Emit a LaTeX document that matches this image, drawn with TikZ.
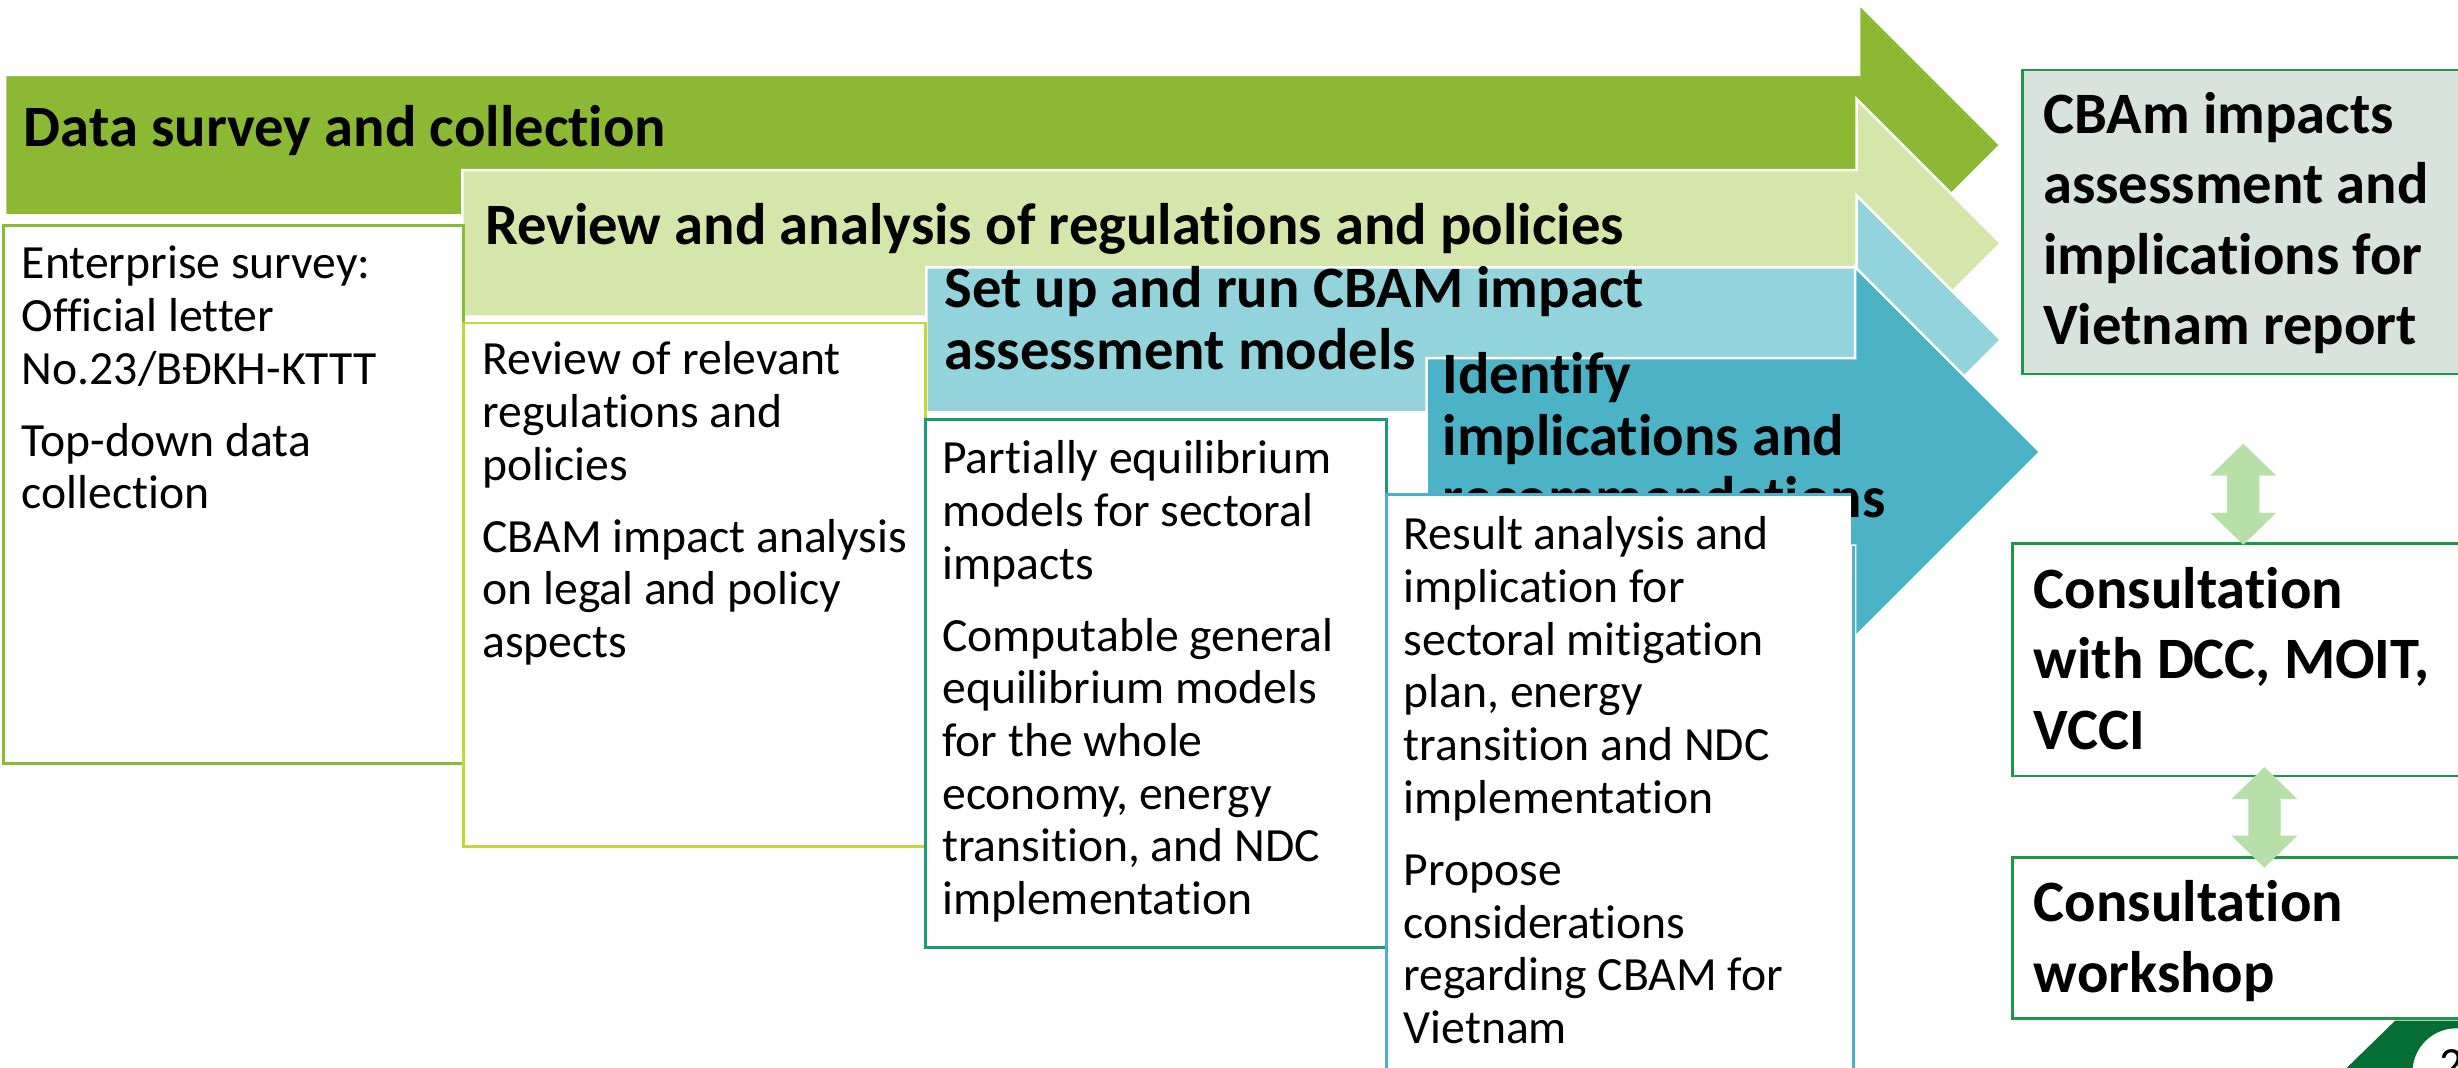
\documentclass[tikz,border=0pt]{standalone}
\usepackage{fontspec}
\setmainfont{Carlito}[Ligatures=NoCommon]
\definecolor{stepA}{RGB}{140,185,52}
\definecolor{stepB}{RGB}{212,230,170}
\definecolor{stepC}{RGB}{147,211,220}
\definecolor{stepD}{RGB}{75,179,197}
\definecolor{lineA}{RGB}{141,185,56}
\definecolor{lineB}{RGB}{196,214,60}
\definecolor{lineC}{RGB}{26,156,122}
\definecolor{lineD}{RGB}{80,175,200}
\definecolor{sideline}{RGB}{30,152,72}
\definecolor{sidefill}{RGB}{216,227,221}
\definecolor{linkfill}{RGB}{182,224,168}
\definecolor{pagegreen}{RGB}{5,110,50}
\newcommand{\vdblarrow}[3]{% centre x, upper tip y, lower tip y
  \fill[linkfill] (#1,#2) -- (#1+21,#2+20.4) -- (#1+10.3,#2+20.4) -- (#1+10.3,#3-20.4)
    -- (#1+21,#3-20.4) -- (#1,#3) -- (#1-21,#3-20.4) -- (#1-10.3,#3-20.4)
    -- (#1-10.3,#2+20.4) -- (#1-21,#2+20.4) -- cycle;}
\begin{document}
\begin{tikzpicture}[x=0.5pt,y=-0.5pt,
  stagearrow/.style={draw=white,line width=0.8pt,line join=miter},
  textbox/.style={fill=white,line width=0.9pt},
  sidebox/.style={draw=sideline,line width=0.9pt},
  bodytext/.style={inner sep=0pt,anchor=base west,align=flush left,text width=300pt,
    font=\fontsize{15.2pt}{16.8pt}\selectfont},
  headtext/.style={inner sep=0pt,anchor=base west,align=flush left,text width=420pt,
    font=\bfseries\fontsize{18.7pt}{19.75pt}\selectfont},
  sidetext/.style={inner sep=0pt,anchor=base west,align=flush left,text width=200pt,
    font=\bfseries\fontsize{18.7pt}{22.5pt}\selectfont}]
\useasboundingbox (0,0) rectangle (1568,681);
\clip (0,0) rectangle (1568,681);
\fill[white] (0,0) rectangle (1568,681);

% stage arrows, back to front
\filldraw[stagearrow,fill=stepA] (3.2,47.8) -- (1186,47.8) -- (1186,2.6) -- (1276,92.6)
  -- (1186,182.6) -- (1186,137.4) -- (3.2,137.4) -- cycle;
\node[headtext] (h1) at (14.9,93.6) {Data survey and collection};

\filldraw[stagearrow,fill=stepB] (295,108.5) -- (1184.4,108.5) -- (1184.4,63.2) -- (1276.4,155.2)
  -- (1184.4,247.2) -- (1184.4,201.9) -- (295,201.9) -- cycle;
\node[headtext] (h2) at (309,155.7) {Review and analysis of regulations and policies};

\filldraw[stagearrow,fill=stepC] (591,170.6) -- (1184.4,170.6) -- (1184.4,124.8) -- (1276.4,216.8)
  -- (1184.4,308.8) -- (1184.4,263) -- (591,263) -- cycle;
\node[headtext] (h3) at (602,196) {Set up and run CBAM impact\\assessment models};

\filldraw[stagearrow,fill=stepD] (910,228.5) -- (1183.4,228.5) -- (1183.4,170.3) -- (1301.4,288.3)
  -- (1183.4,406.3) -- (1183.4,348.1) -- (910,348.1) -- cycle;
\node[headtext] (h4) at (920,251) {Identify\\implications and\\recommendations};

% detail boxes under each stage
\filldraw[textbox,draw=lineA] (2.1,144) rectangle (295.6,487);
\node[bodytext] (t1) at (13.5,177.8) {Enterprise survey:\\Official letter\\No.23/BĐKH-KTTT\\[6.2pt]Top-down data\\collection};

\filldraw[textbox,draw=lineB] (295.6,206) rectangle (590.5,540);
\node[bodytext] (t2) at (307.4,239) {Review of relevant\\regulations and\\policies\\[6.2pt]CBAM impact analysis\\on legal and policy\\aspects};

\filldraw[textbox,draw=lineC] (590.5,267.5) rectangle (884.4,604.4);
\node[bodytext] (t3) at (600.7,302.2) {Partially equilibrium\\models for sectoral\\impacts\\[6.2pt]Computable general\\equilibrium models\\for the whole\\economy, energy\\transition, and NDC\\implementation};

% last box: its right edge only shows below the arrow body
\fill[white] (884.6,315.7) rectangle (1181,700);
\draw[lineD,line width=0.9pt] (1182.5,348.1) -- (1182.5,700);
\draw[lineD,line width=0.9pt] (884.6,700) -- (884.6,315.7) -- (1181,315.7);
\node[bodytext] (t4) at (895,350.8) {Result analysis and\\implication for\\sectoral mitigation\\plan, energy\\transition and NDC\\implementation\\[6.2pt]Propose\\considerations\\regarding CBAM for\\Vietnam};

% outputs on the right
\filldraw[sidebox,fill=sidefill] (1290,44.7) rectangle (1580,238.6);
\node[sidetext] (r1) at (1303,85) {CBAm impacts\\assessment and\\implications for\\Vietnam report};

\filldraw[sidebox,fill=white] (1283.6,346.7) rectangle (1580,495);
\node[sidetext] (r2) at (1297,388) {Consultation\\with DCC, MOIT,\\VCCI};

\filldraw[sidebox,fill=white] (1283.6,546.8) rectangle (1580,649.5);
\node[sidetext] (r3) at (1297,588) {Consultation\\workshop};

\vdblarrow{1431}{283}{347.5}
\vdblarrow{1444.5}{489.3}{553.5}

% page number tab
\fill[pagegreen] (1488,690) -- (1528,651) -- (1580,651) -- (1580,690) -- cycle;
\fill[white] (1567,684) circle (14pt);
\node[inner sep=0pt,anchor=base west,font=\fontsize{15.2pt}{16.8pt}\selectfont] (pg) at (1556,689) {2};
\end{tikzpicture}
\end{document}
